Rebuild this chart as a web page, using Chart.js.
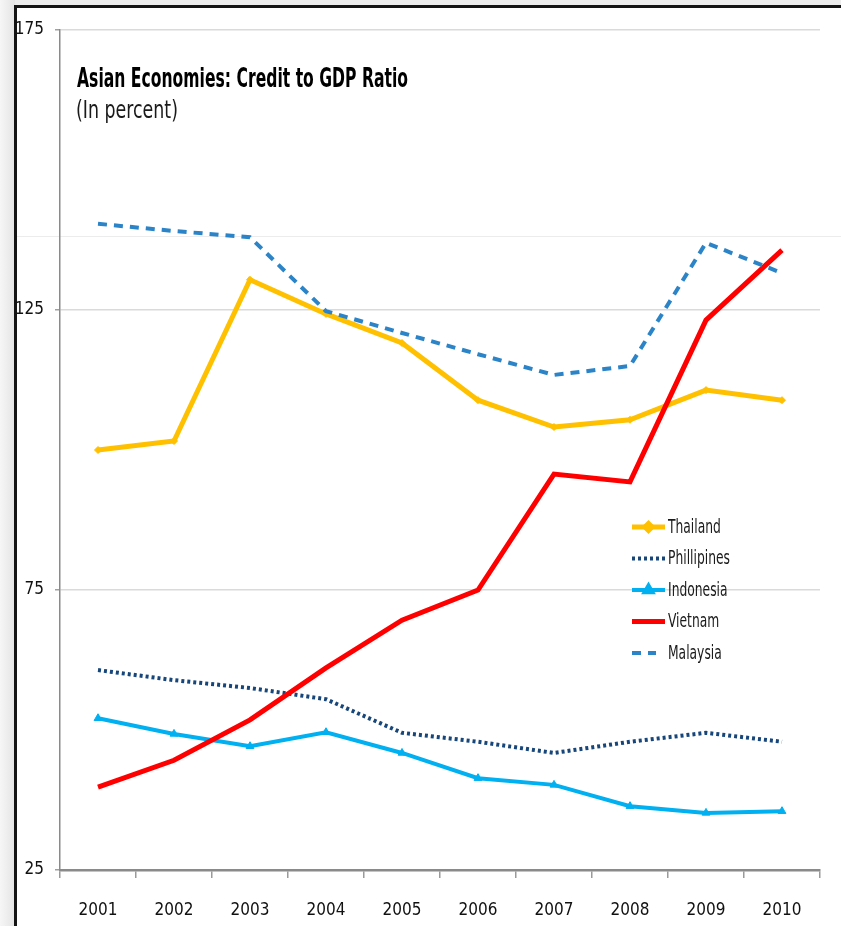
<!DOCTYPE html>
<html>
<head>
<meta charset="utf-8">
<script src="https://cdn.jsdelivr.net/npm/chart.js@4.4.1/dist/chart.umd.min.js"></script>
<style>
  html, body { margin:0; padding:0; width:841px; height:926px; overflow:hidden; background:#ececec; }
  #leftbg { position:absolute; left:0; top:0; width:15px; height:926px; background:linear-gradient(90deg,#f6f6f6,#e4e4e4); }
  #frame { position:absolute; left:14px; top:5px; width:827px; height:921px; background:#fff;
           border-left:3px solid #141414; border-top:3px solid #141414; box-sizing:border-box; }
  #faint { position:absolute; left:17px; top:236px; width:824px; height:1px; background:#ececec; }
  canvas { position:absolute; left:0; top:0; }
</style>
</head>
<body>
<div id="leftbg"></div>
<div id="frame"></div>
<div id="faint"></div>
<canvas id="c" width="841" height="926"></canvas>
<script>
// ---- data ----
const TITLE = "Asian Economies: Credit to GDP Ratio";
const SUBTITLE = "(In percent)";
const years = ["2001","2002","2003","2004","2005","2006","2007","2008","2009","2010"];
const thailand   = [100.0, 101.6, 130.4, 124.3, 119.1, 108.9, 104.1, 105.4, 110.7, 108.9];
const philippines= [60.7, 58.9, 57.5, 55.5, 49.5, 47.9, 45.9, 47.9, 49.5, 47.9];
const indonesia  = [52.1, 49.3, 47.1, 49.6, 45.9, 41.4, 40.2, 36.4, 35.2, 35.5];
const vietnam    = [39.8, 44.6, 51.8, 61.1, 69.6, 75.0, 95.7, 94.3, 123.2, 135.7];
const malaysia   = [140.4, 139.1, 138.0, 124.8, 120.9, 117.1, 113.4, 115.0, 137.0, 131.6];
const seriesNames = ["Thailand","Phillipines","Indonesia","Vietnam","Malaysia"];
const yTicks = [25, 75, 125, 175];

const NARROW = '"DejaVu Sans Condensed", "DejaVu Sans", sans-serif';

function fitText(ctx, text, font, x, y, w) {
  ctx.font = font;
  const m = ctx.measureText(text).width;
  const s = Math.min(1, w / m);
  ctx.save();
  ctx.translate(x, y);
  ctx.scale(s, 1);
  ctx.fillText(text, 0, 0);
  ctx.restore();
}

const innerTitle = {
  id: 'innerTitle',
  afterDraw(chart) {
    const ctx = chart.ctx;
    ctx.save();
    ctx.textBaseline = 'alphabetic';
    ctx.textAlign = 'left';
    ctx.fillStyle = '#000';
    fitText(ctx, TITLE, 'bold 26px ' + NARROW, 77, 87, 331);
    ctx.fillStyle = '#1a1a1a';
    fitText(ctx, SUBTITLE, '25px ' + NARROW, 76, 118, 102);
    ctx.restore();
  }
};

const innerLegend = {
  id: 'innerLegend',
  afterDraw(chart) {
    const ctx = chart.ctx;
    const x0 = 632, x1 = 665, tx = 668, y0 = 527, dy = 31.5;
    chart.data.datasets.forEach((ds, i) => {
      const y = y0 + i * dy;
      ctx.save();
      ctx.strokeStyle = ds.borderColor;
      ctx.lineWidth = ds.borderWidth;
      ctx.lineCap = 'butt';
      ctx.setLineDash(ds.borderDash || []);
      ctx.beginPath();
      ctx.moveTo(x0, y);
      ctx.lineTo(i === 4 ? 656 : x1, y);
      ctx.stroke();
      ctx.setLineDash([]);
      if (ds.pointRadius > 0) {
        Chart.helpers.drawPoint(ctx, {
          pointStyle: ds.pointStyle, radius: ds.pointRadius, rotation: 0, borderWidth: 1
        }, (x0 + x1) / 2, y);
        ctx.fillStyle = ds.borderColor;
        ctx.fill();
      }
      ctx.fillStyle = '#1a1a1a';
      ctx.textBaseline = 'middle';
      ctx.textAlign = 'left';
      ctx.font = '19px ' + NARROW;
      ctx.translate(tx, y + 1);
      ctx.scale(0.72, 1);
      ctx.fillText(seriesNames[i], 0, 0);
      ctx.restore();
    });
  }
};

new Chart(document.getElementById('c'), {
  type: 'line',
  data: {
    labels: years,
    datasets: [
      { label: seriesNames[0], data: thailand, borderColor: '#FFC000', backgroundColor: '#FFC000',
        borderWidth: 5, pointStyle: 'rectRot', pointRadius: 3.5, pointBorderWidth: 1, order: 5, tension: 0 },
      { label: seriesNames[1], data: philippines, borderColor: '#17467A', backgroundColor: '#17467A',
        borderWidth: 4, borderDash: [3, 3], pointRadius: 0, order: 4, tension: 0 },
      { label: seriesNames[2], data: indonesia, borderColor: '#00B0F0', backgroundColor: '#00B0F0',
        borderWidth: 4, pointStyle: 'triangle', pointRadius: 4.5, pointBorderWidth: 1, order: 3, tension: 0 },
      { label: seriesNames[3], data: vietnam, borderColor: '#FF0000', backgroundColor: '#FF0000',
        borderWidth: 5, pointRadius: 0, order: 2, tension: 0 },
      { label: seriesNames[4], data: malaysia, borderColor: '#2A84C7', backgroundColor: '#2A84C7',
        borderWidth: 4, borderDash: [9, 7], pointRadius: 0, order: 1, tension: 0 }
    ]
  },
  options: {
    responsive: false,
    animation: false,
    events: [],
    layout: { padding: { left: 0, right: 21, top: 30, bottom: 0 } },
    plugins: { legend: { display: false }, title: { display: false }, tooltip: { enabled: false } },
    scales: {
      x: {
        type: 'category',
        offset: true,
        afterFit(scale) { scale.height = 56; },
        grid: { offset: true, drawOnChartArea: false, drawTicks: true, tickLength: 8, color: '#9a9a9a', lineWidth: 1.5 },
        border: { display: true, color: '#8a8a8a', width: 2.5 },
        ticks: { padding: 22, color: '#111', font: { family: NARROW, size: 17 }, maxRotation: 0, autoSkip: false }
      },
      y: {
        type: 'linear',
        min: 25, max: 175,
        afterFit(scale) { scale.width = 60; },
        afterBuildTicks(scale) { scale.ticks = yTicks.map(v => ({ value: v })); },
        grid: { color: '#dadada', lineWidth: 1.5, tickLength: 5, tickColor: '#a0a0a0' },
        border: { display: true, color: '#8a8a8a', width: 1.5 },
        ticks: { padding: 11, color: '#111', font: { family: NARROW, size: 17 } }
      }
    }
  },
  plugins: [innerTitle, innerLegend]
});
</script>
</body>
</html>
